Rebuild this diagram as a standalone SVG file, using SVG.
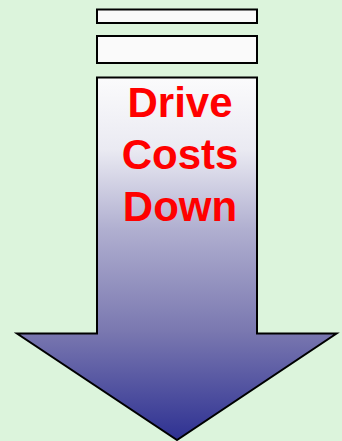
<svg xmlns="http://www.w3.org/2000/svg" width="342" height="441" viewBox="0 0 342 441">
<defs>
<linearGradient id="g" x1="0" y1="77" x2="0" y2="440" gradientUnits="userSpaceOnUse">
<stop offset="0" stop-color="#fbfbfc"/>
<stop offset="0.2" stop-color="#eaeaf2"/>
<stop offset="0.42" stop-color="#b0afd0"/>
<stop offset="0.7" stop-color="#7a78b0"/>
<stop offset="1" stop-color="#2e3192"/>
</linearGradient>
<style>
.box{fill:#fafafa;stroke:#000;stroke-width:2}
.t{font-family:"Liberation Sans",Arial,sans-serif;font-weight:bold;font-size:42px;fill:#ff0000;text-anchor:middle}
</style>
</defs>
<rect width="342" height="441" fill="#dcf4dc"/>
<g id="bar1"><rect class="box" x="97" y="9.5" width="160" height="13.5"/></g>
<g id="bar2"><rect class="box" x="97" y="36" width="160" height="27"/></g>
<g id="arrow">
<path d="M97 77.5 H257 V333.5 H336.5 L177 440 L17 333.5 H97 Z" fill="url(#g)" stroke="#000" stroke-width="2" stroke-linejoin="miter"/>
<text class="t" x="180" y="117">Drive</text>
<text class="t" x="180" y="169">Costs</text>
<text class="t" x="180" y="221">Down</text>
</g>
<g id="connectors"/>
</svg>
